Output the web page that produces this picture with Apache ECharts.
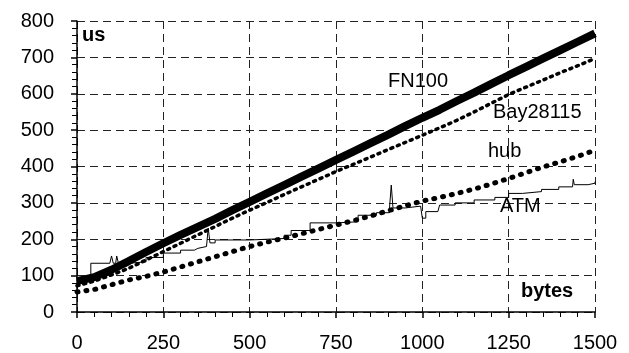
<!DOCTYPE html>
<html>
<head>
<meta charset="utf-8">
<script src="https://cdn.jsdelivr.net/npm/echarts@6/dist/echarts.min.js"></script>
<style>html,body{margin:0;padding:0;background:#fff}#c{width:629px;height:353px}</style>
</head>
<body>
<div id="c"></div>
<script>
var bytesX = [0,50,100,150,200,250,300,350,400,450,500,550,600,650,700,750,800,850,900,950,1000,1050,1100,1150,1200,1250,1300,1350,1400,1450,1500];
var fn100 = [85,96,116,140,165,189,212,234,256,280,303,326,349,372,395,418,441,464,487,511,534,556,580,603,627,651,674,697,720,743,766];
var bay28115 = [72,85,102,120,143,166,189,212,235,258,280,301,323,344,365,386,406,426,446,466,486,506,527,550,574,598,618,638,658,677,697];
var hub = [55,62,75,88,98,110,124,138,152,166,180,192,203,215,227,239,251,264,278,292,305,315,326,338,352,367,383,399,413,428,445];
var atmX = [0,40,95,100,105,112,115,120,150,200,250,300,340,350,375,380,385,400,500,600,620,675,750,814,867,905,910,915,950,995,1000,1010,1045,1050,1095,1150,1210,1250,1290,1345,1395,1435,1437,1440,1480,1500];
var atmY = [90,134,134,154,134,134,154,134,138,150,162,170,175,180,180,231,190,198,202,211,224,245,248,266,273,286,349,286,291,291,258,276,276,294,300,308,315,326,331,337,344,344,365,350,354,358];
var xTicks = [0,250,500,750,1000,1250,1500];
var yTicks = [0,100,200,300,400,500,600,700,800];

function pairs(xs, ys){ return xs.map(function(x,i){ return [x, ys[i]]; }); }

var FONT = '"Liberation Sans", Arial, sans-serif';
var chart = echarts.init(document.getElementById('c'), null, {renderer:'canvas'});
var grid = {left:77, right:34, top:21, bottom:41};
var dash = {color:'#222', width:1, type:[8,5]};
chart.setOption({
  animation:false,
  backgroundColor:'#fff',
  grid:grid,
  xAxis:{
    type:'value', min:0, max:1500, interval:250,
    axisLine:{show:true, onZero:false, lineStyle:{color:'#000', width:1.5}},
    axisTick:{show:true, length:6, lineStyle:{color:'#000', width:1.5}},
    minorTick:{show:true, splitNumber:5, length:5, lineStyle:{color:'#000', width:1}},
    splitLine:{show:true, lineStyle:dash},
    axisLabel:{color:'#000', fontSize:20, fontFamily:FONT, margin:21,
      formatter:function(v){ return xTicks.indexOf(v) >= 0 ? String(v) : ''; }}
  },
  yAxis:{
    type:'value', min:0, max:800, interval:100,
    axisLine:{show:true, onZero:false, lineStyle:{color:'#000', width:1.5}},
    axisTick:{show:true, length:6, lineStyle:{color:'#000', width:1.5}},
    minorTick:{show:true, splitNumber:5, length:5, lineStyle:{color:'#000', width:1}},
    splitLine:{show:true, lineStyle:dash},
    axisLabel:{color:'#000', fontSize:20, fontFamily:FONT, margin:23, padding:[0,0,6,0],
      formatter:function(v){ return yTicks.indexOf(v) >= 0 ? String(v) : ''; }}
  },
  series:[
    {name:'ATM', type:'line', step:'end', data:pairs(atmX, atmY), showSymbol:false,
     lineStyle:{color:'#000', width:1}, z:2},
    {name:'hub', type:'line', data:pairs(bytesX, hub), showSymbol:false,
     lineStyle:{color:'#000', width:5, type:[1,8], cap:'round'}, z:3},
    {name:'Bay28115', type:'line', data:pairs(bytesX, bay28115), showSymbol:false,
     lineStyle:{color:'#000', width:3.5, type:[2,5], cap:'round'}, z:3},
    {name:'FN100', type:'line', data:pairs(bytesX, fn100), showSymbol:false,
     lineStyle:{color:'#000', width:8}, z:4}
  ],
  graphic:[
    {type:'text', x:82, y:35, z:10, style:{text:'us', font:'bold 20px '+FONT, fill:'#000', verticalAlign:'middle'}},
    {type:'text', x:388, y:81, z:10, style:{text:'FN100', font:'20px '+FONT, fill:'#000', verticalAlign:'middle'}},
    {type:'text', x:493, y:112, z:10, style:{text:'Bay28115', font:'20px '+FONT, fill:'#000', verticalAlign:'middle'}},
    {type:'text', x:488, y:151, z:10, style:{text:'hub', font:'20px '+FONT, fill:'#000', verticalAlign:'middle'}},
    {type:'text', x:500, y:206, z:10, style:{text:'ATM', font:'20px '+FONT, fill:'#000', verticalAlign:'middle'}},
    {type:'text', x:521, y:291, z:10, style:{text:'bytes', font:'bold 20px '+FONT, fill:'#000', verticalAlign:'middle'}}
  ]
});
</script>
</body>
</html>
